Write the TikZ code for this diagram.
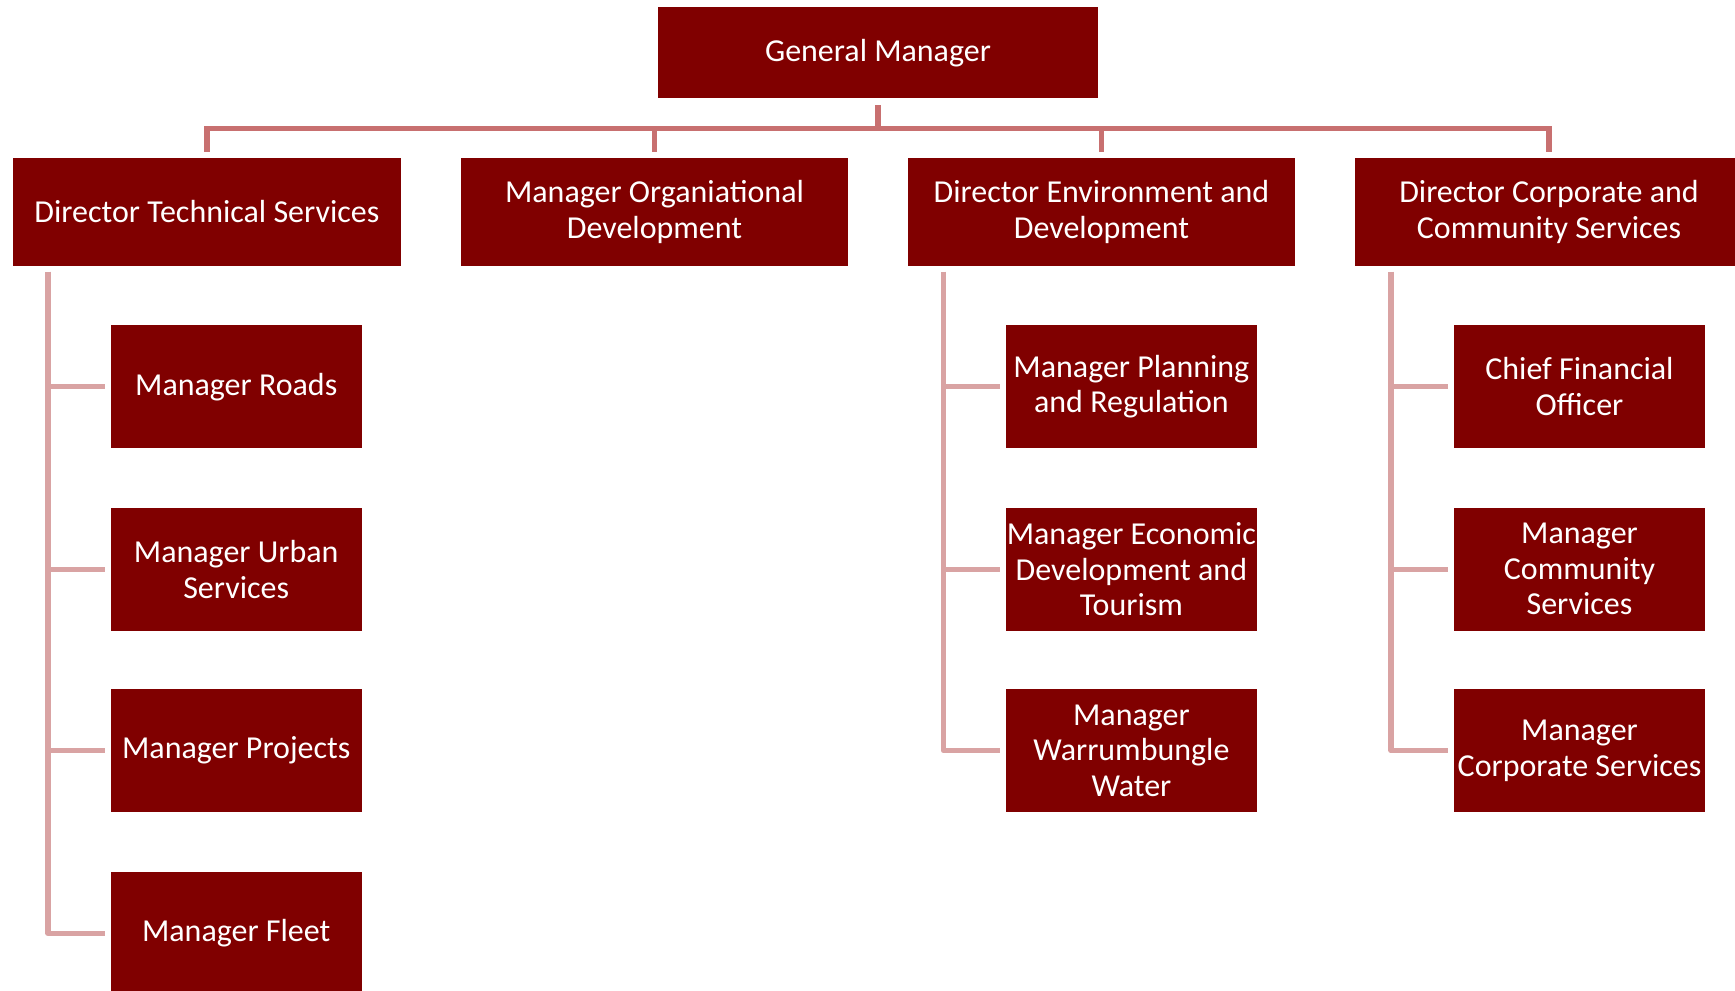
\documentclass[tikz,border=0pt]{standalone}
\usepackage{fontspec}
\setmainfont{Carlito}
\usetikzlibrary{positioning}

\definecolor{boxred}{HTML}{800000}
\definecolor{linetop}{HTML}{C87070}
\definecolor{lineside}{HTML}{D9A3A3}

\begin{document}
\begin{tikzpicture}[
    every node/.style={font=\fontsize{9.1pt}{10.1pt}\selectfont, text=white, align=center, inner sep=0pt},
    topbox/.style={fill=boxred, minimum width=4.40cm, minimum height=0.915cm},
    dirbox/.style={fill=boxred, minimum width=3.873cm, minimum height=1.073cm},
    subbox/.style={fill=boxred, minimum width=2.512cm, minimum height=1.228cm},
    topline/.style={linetop, line width=0.055cm},
    sideline/.style={lineside, line width=0.055cm, line join=round}
]
\useasboundingbox (0,0) rectangle (17.35,-9.9);

% ========== top level ==========
\node[topbox] (gm) at (8.78,-0.527) {General Manager};

% ========== directors ==========
\node[dirbox] (dts)  at (2.069,-2.119)  {Director Technical Services};
\node[dirbox] (mod)  at (6.545,-2.119)  {Manager Organiational\\Development};
\node[dirbox] (ded)  at (11.015,-2.119) {Director Environment and\\Development};
\node[dirbox] (dccs) at (15.49,-2.119)  {Director Corporate and\\Community Services};

% ========== managers under each director ==========
\foreach \kid/\y/\txt in {roads/3.867/{Manager Roads},
                          urban/5.693/{Manager Urban\\Services},
                          projects/7.507/{Manager Projects},
                          fleet/9.333/{Manager Fleet}} {
    \node[subbox] (\kid) at (2.362,-\y) {\txt};
}
\foreach \kid/\y/\txt in {planning/3.867/{Manager Planning\\and Regulation},
                          econ/5.693/{Manager Economic\\Development and\\Tourism},
                          water/7.507/{Manager\\Warrumbungle\\Water}} {
    \node[subbox] (\kid) at (11.314,-\y) {\txt};
}
\foreach \kid/\y/\txt in {cfo/3.867/{Chief Financial\\Officer},
                          community/5.693/{Manager\\Community\\Services},
                          corporate/7.507/{Manager\\Corporate Services}} {
    \node[subbox] (\kid) at (15.795,-\y) {\txt};
}

% ========== connectors: general manager to directors ==========
\coordinate (bar) at (8.78,-1.284);
\draw[topline] ([yshift=-0.06cm]gm.south) -- (gm.south |- bar);
\draw[topline] ([yshift=0.06cm]dts.north) |- (bar) -| ([yshift=0.06cm]dccs.north);
\foreach \dir in {mod,ded} {
    \draw[topline] ([yshift=0.06cm]\dir.north) -- (\dir.north |- bar);
}

% ========== connectors: directors to managers ==========
\foreach \kid in {roads,urban,projects,fleet} {
    \draw[sideline] ([xshift=0.355cm,yshift=-0.055cm]dts.south west) |- ([xshift=-0.05cm]\kid.west);
}
\foreach \kid in {planning,econ,water} {
    \draw[sideline] ([xshift=0.365cm,yshift=-0.055cm]ded.south west) |- ([xshift=-0.05cm]\kid.west);
}
\foreach \kid in {cfo,community,corporate} {
    \draw[sideline] ([xshift=0.365cm,yshift=-0.055cm]dccs.south west) |- ([xshift=-0.05cm]\kid.west);
}

\end{tikzpicture}
\end{document}
